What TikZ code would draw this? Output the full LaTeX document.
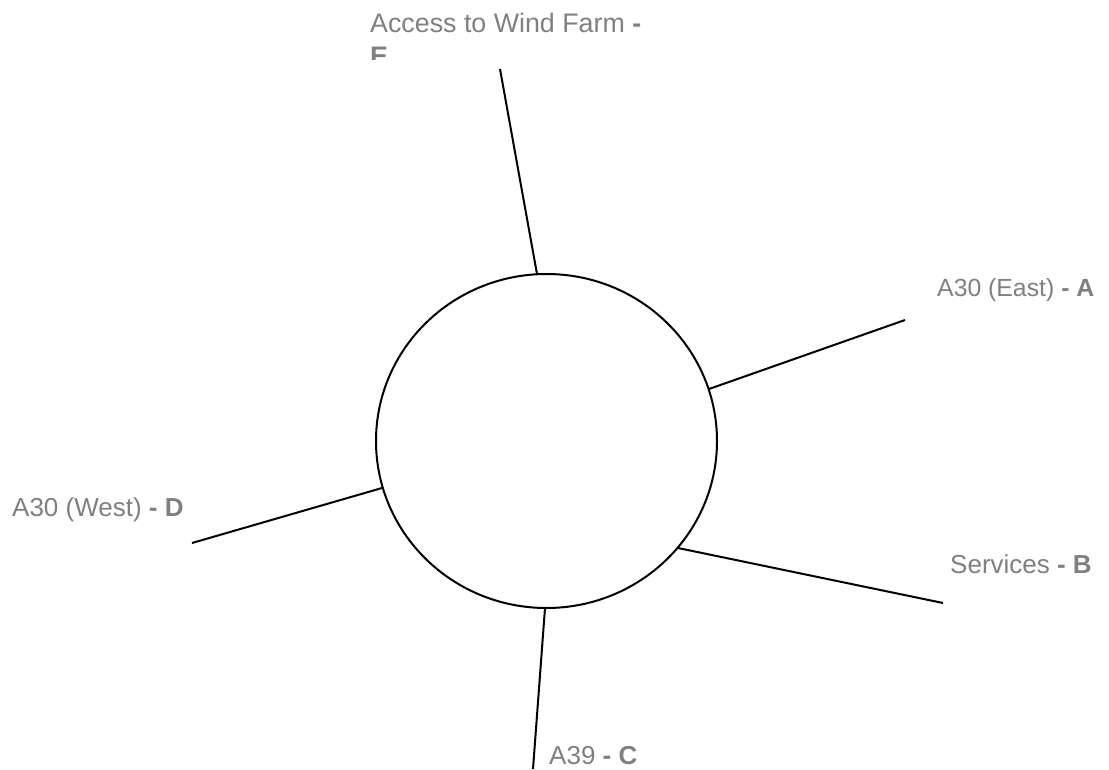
\documentclass[tikz,border=0pt]{standalone}
\usepackage{fontspec}
\setmainfont{Liberation Sans}
\usetikzlibrary{shapes.geometric}
\definecolor{labelgray}{RGB}{128,128,128}
\begin{document}
\begin{tikzpicture}[x=1pt,y=-1pt,
  road/.style={draw=black,line width=2pt},
  lbl/.style={anchor=base west,inner sep=0pt,text=labelgray,font=\fontsize{26}{30}\selectfont}]
\useasboundingbox (0,0) rectangle (1109,769);
\node[ellipse,draw=black,line width=2pt,minimum width=341pt,minimum height=334pt,inner sep=0pt] (hub) at (546.5,441) {};
% connector ends
\coordinate (eOut) at (500,69);
\coordinate (eIn) at (537,274);
\coordinate (aOut) at (905,320);
\coordinate (aIn) at (709,389);
\coordinate (bOut) at (943,603);
\coordinate (bIn) at (678,548);
\coordinate (cOut) at (533,769);
\coordinate (cIn) at (545,608);
\coordinate (dOut) at (192,543);
\coordinate (dIn) at (382,488);
\draw[road] (eIn) -- (eOut);
\draw[road] (aIn) -- (aOut);
\draw[road] (bIn) -- (bOut);
\draw[road] (cIn) -- (cOut);
\draw[road] (dIn) -- (dOut);
% labels
\node[lbl,font=\fontsize{26.8}{30}\selectfont] (labE) at (370,32) {Access to Wind Farm \textbf{-}};
\begin{scope}
\clip (0,0) rectangle (1109,59);
\node[lbl,font=\fontsize{26.8}{30}\selectfont] (labE2) at (370,65) {\textbf{E}};
\end{scope}
\node[lbl,font=\fontsize{24.8}{30}\selectfont] (labA) at (937,296) {A30 (East) \textbf{- A}};
\node[lbl] (labB) at (950,573) {Services \textbf{- B}};
\node[lbl] (labC) at (549,764) {A39 \textbf{- C}};
\node[lbl] (labD) at (12,516) {A30 (West) \textbf{- D}};
\end{tikzpicture}
\end{document}
